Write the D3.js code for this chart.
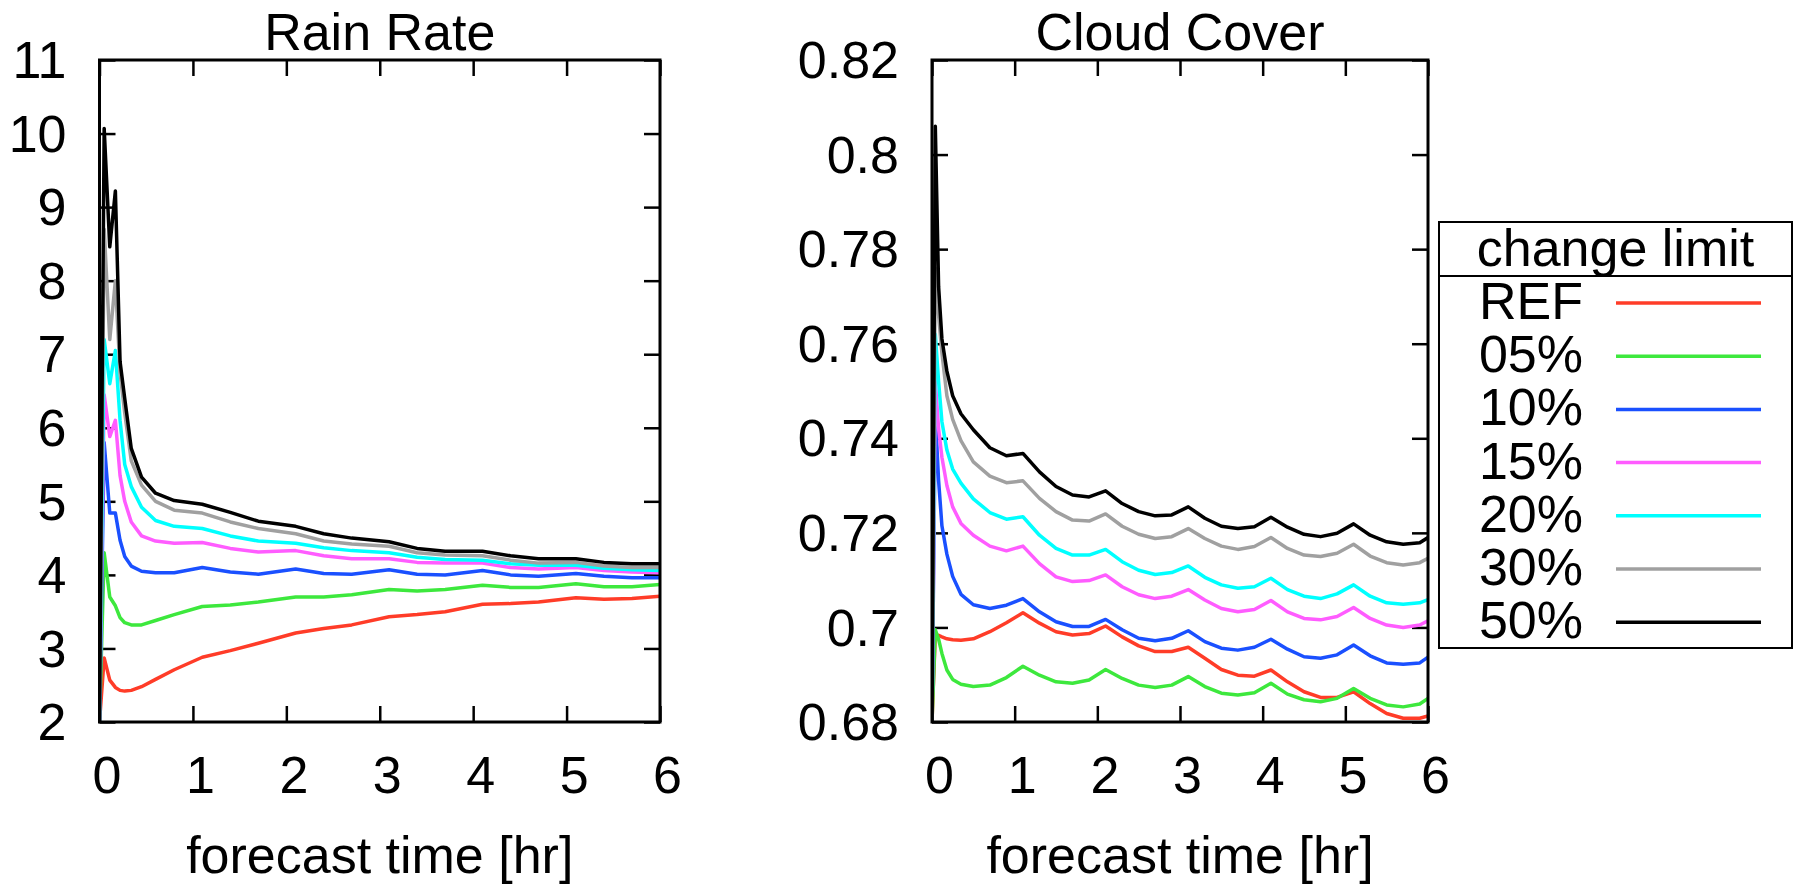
<!DOCTYPE html>
<html>
<head>
<meta charset="utf-8">
<script src="https://cdn.jsdelivr.net/npm/d3@7"></script>
<style>
  body { margin: 0; background: #fff; }
  svg text { font-family: "Liberation Sans", Arial, Helvetica, sans-serif; fill: #000; }
</style>
</head>
<body>
<div id="chart"></div>
<script>
// series names + colours (legend order)
const seriesNames = ["REF", "05%", "10%", "15%", "20%", "30%", "50%"];
const seriesColors = ["#ff3c28", "#3de83d", "#1a50ff", "#ff5cff", "#00ffff", "#a0a0a0", "#000000"];

// Rain Rate: forecast time [hr]
const rainTimes = [0, 0.05, 0.11, 0.17, 0.22, 0.27, 0.34, 0.45, 0.6, 0.8, 1.1, 1.4, 1.7, 2.1, 2.4, 2.7, 3.1, 3.4, 3.7, 4.1, 4.4, 4.7, 5.1, 5.4, 5.7, 6.0];
const rainREF = [2, 2.87, 2.57, 2.47, 2.43, 2.42, 2.43, 2.48, 2.58, 2.71, 2.88, 2.97, 3.07, 3.21, 3.27, 3.32, 3.43, 3.46, 3.50, 3.60, 3.61, 3.63, 3.69, 3.67, 3.68, 3.71];
const rain05 = [2, 4.30, 3.70, 3.58, 3.42, 3.35, 3.32, 3.32, 3.38, 3.46, 3.57, 3.59, 3.63, 3.70, 3.70, 3.73, 3.80, 3.78, 3.80, 3.86, 3.83, 3.83, 3.88, 3.84, 3.84, 3.87];
const rain10 = [2, 5.80, 4.84, 4.84, 4.47, 4.25, 4.12, 4.05, 4.03, 4.03, 4.10, 4.04, 4.01, 4.08, 4.02, 4.01, 4.07, 4.01, 4.00, 4.06, 4.00, 3.98, 4.02, 3.98, 3.96, 3.96];
const rain15 = [2, 6.45, 5.88, 6.10, 5.35, 5.00, 4.72, 4.53, 4.46, 4.43, 4.44, 4.36, 4.31, 4.33, 4.26, 4.22, 4.22, 4.17, 4.16, 4.16, 4.10, 4.08, 4.10, 4.06, 4.04, 4.03];
const rain20 = [2, 7.20, 6.60, 7.05, 6.10, 5.50, 5.20, 4.92, 4.74, 4.66, 4.63, 4.53, 4.46, 4.43, 4.37, 4.33, 4.30, 4.24, 4.21, 4.20, 4.15, 4.13, 4.13, 4.09, 4.07, 4.06];
const rain30 = [2, 8.70, 7.20, 8.00, 6.75, 6.20, 5.55, 5.22, 5.00, 4.88, 4.84, 4.72, 4.63, 4.56, 4.46, 4.42, 4.39, 4.30, 4.27, 4.26, 4.20, 4.16, 4.17, 4.12, 4.10, 4.10];
const rain50 = [2, 10.07, 8.46, 9.22, 6.90, 6.40, 5.72, 5.33, 5.11, 5.01, 4.96, 4.85, 4.73, 4.66, 4.56, 4.50, 4.45, 4.36, 4.32, 4.32, 4.26, 4.22, 4.22, 4.17, 4.15, 4.15];

// Cloud Cover: forecast time [hr]
const cloudTimes = [0, 0.04, 0.08, 0.12, 0.18, 0.25, 0.35, 0.5, 0.7, 0.9,
  1.1, 1.3, 1.5, 1.7, 1.9, 2.1, 2.3, 2.5, 2.7, 2.9, 3.1, 3.3, 3.5, 3.7, 3.9,
  4.1, 4.3, 4.5, 4.7, 4.9, 5.1, 5.3, 5.5, 5.7, 5.9, 6.0];
const cloudREF = [0.68, 0.6985, 0.6983, 0.698, 0.6976, 0.6974, 0.6973, 0.6976, 0.6991, 0.7010,
  0.7031, 0.7009, 0.6991, 0.6984, 0.6987, 0.7003, 0.6980, 0.6961, 0.6949, 0.6949, 0.6958, 0.6935, 0.6911, 0.6899, 0.6897,
  0.6910, 0.6885, 0.6864, 0.6852, 0.6852, 0.6864, 0.6839, 0.6818, 0.6808, 0.6808, 0.6813];
const cloud05 = [0.68, 0.6995, 0.6975, 0.6945, 0.6910, 0.6890, 0.6880, 0.6875, 0.6878, 0.6894,
  0.6918, 0.6899, 0.6885, 0.6882, 0.6889, 0.6911, 0.6892, 0.6878, 0.6873, 0.6878, 0.6896, 0.6875, 0.6861, 0.6857, 0.6862,
  0.6882, 0.6859, 0.6847, 0.6843, 0.6850, 0.6871, 0.6850, 0.6836, 0.6832, 0.6838, 0.6850];
const cloud10 = [0.68, 0.745, 0.731, 0.7215, 0.7155, 0.7108, 0.7070, 0.7048, 0.7040, 0.7047,
  0.7061, 0.7033, 0.7012, 0.7002, 0.7002, 0.7017, 0.6995, 0.6977, 0.6972, 0.6977, 0.6993, 0.6970, 0.6956, 0.6952, 0.6958,
  0.6975, 0.6954, 0.6938, 0.6935, 0.6942, 0.6963, 0.6940, 0.6925, 0.6922, 0.6925, 0.6937];
const cloud15 = [0.68, 0.752, 0.742, 0.736, 0.730, 0.7255, 0.7220, 0.7195, 0.7172, 0.7162,
  0.7172, 0.7135, 0.7107, 0.7097, 0.7099, 0.7111, 0.7086, 0.7069, 0.7061, 0.7066, 0.7080, 0.7058, 0.7040, 0.7033, 0.7038,
  0.7057, 0.7033, 0.7019, 0.7016, 0.7023, 0.7042, 0.7019, 0.7005, 0.7000, 0.7005, 0.7014];
const cloud20 = [0.68, 0.762, 0.752, 0.7435, 0.7375, 0.7335, 0.7305, 0.7272, 0.7243, 0.7229,
  0.7234, 0.7195, 0.7167, 0.7153, 0.7153, 0.7165, 0.7139, 0.7121, 0.7112, 0.7116, 0.7130, 0.7106, 0.7090, 0.7083, 0.7086,
  0.7104, 0.7080, 0.7066, 0.7061, 0.7071, 0.7090, 0.7066, 0.7052, 0.7049, 0.7052, 0.7059];
const cloud30 = [0.68, 0.776, 0.766, 0.758, 0.749, 0.744, 0.7395, 0.7350, 0.7320, 0.7306,
  0.7310, 0.7273, 0.7245, 0.7227, 0.7225, 0.7240, 0.7214, 0.7197, 0.7188, 0.7192, 0.7209, 0.7188, 0.7172, 0.7165, 0.7171,
  0.7190, 0.7167, 0.7153, 0.7150, 0.7157, 0.7176, 0.7151, 0.7137, 0.7132, 0.7137, 0.7146];
const cloud50 = [0.68, 0.806, 0.772, 0.761, 0.7542, 0.749, 0.7452, 0.7418, 0.7380, 0.7363,
  0.7368, 0.7329, 0.7298, 0.7280, 0.7276, 0.7289, 0.7262, 0.7245, 0.7236, 0.7238, 0.7255, 0.7231, 0.7214, 0.7209, 0.7213,
  0.7233, 0.7212, 0.7197, 0.7192, 0.7199, 0.7219, 0.7195, 0.7181, 0.7176, 0.7179, 0.7190];

const rainTicksY = [2, 3, 4, 5, 6, 7, 8, 9, 10, 11];
const cloudTicksY = [0.68, 0.70, 0.72, 0.74, 0.76, 0.78, 0.80, 0.82];
const timeTicks = [0, 1, 2, 3, 4, 5, 6];

const width = 1794;
const height = 885;
const fontSize = 52;
const tickLen = 16;

const svg = d3.select("#chart").append("svg")
  .attr("width", width)
  .attr("height", height);

svg.append("rect").attr("width", width).attr("height", height).attr("fill", "#fff");

function drawPanel(opts) {
  const { id, title, x, y, yTicks, yFormat, times, series } = opts;
  const [x0, x1] = x.range();
  const [yb, yt] = y.range();
  const g = svg.append("g");

  g.append("clipPath").attr("id", id)
    .append("rect")
    .attr("x", x0).attr("y", yt)
    .attr("width", x1 - x0).attr("height", yb - yt);

  // ticks on all four sides, pointing in
  g.append("g").attr("transform", `translate(0,${yb})`)
    .call(d3.axisBottom(x).tickValues(timeTicks).tickSize(-tickLen).tickPadding(34).tickFormat(d3.format("d")))
    .call(a => a.select(".domain").remove())
    .call(a => a.selectAll("text").attr("dx", 7));
  g.append("g").attr("transform", `translate(0,${yt})`)
    .call(d3.axisTop(x).tickValues(timeTicks).tickSize(-tickLen).tickFormat(""))
    .call(a => a.select(".domain").remove());
  g.append("g").attr("transform", `translate(${x0},0)`)
    .call(d3.axisLeft(y).tickValues(yTicks).tickSize(-tickLen).tickPadding(33).tickFormat(yFormat))
    .call(a => a.select(".domain").remove())
    .call(a => a.selectAll("text").attr("dy", "0.34em"));
  g.append("g").attr("transform", `translate(${x1},0)`)
    .call(d3.axisRight(y).tickValues(yTicks).tickSize(-tickLen).tickFormat(""))
    .call(a => a.select(".domain").remove());

  g.selectAll(".tick line").attr("stroke", "#000").attr("stroke-width", 2.5);
  g.selectAll(".tick text")
    .attr("font-size", fontSize)
    .attr("font-family", "Liberation Sans, Arial, sans-serif")
    .attr("fill", "#000");

  const line = d3.line()
    .x((d, i) => x(times[i]))
    .y(d => y(d));

  g.append("g").attr("clip-path", `url(#${id})`)
    .selectAll("path")
    .data(series)
    .join("path")
    .attr("d", d => line(d))
    .attr("fill", "none")
    .attr("stroke", (d, i) => seriesColors[i])
    .attr("stroke-width", 3.5)
    .attr("stroke-linejoin", "round");

  g.append("rect")
    .attr("x", x0).attr("y", yt)
    .attr("width", x1 - x0).attr("height", yb - yt)
    .attr("fill", "none")
    .attr("stroke", "#000")
    .attr("stroke-width", 3);

  g.append("text")
    .attr("x", (x0 + x1) / 2)
    .attr("y", 50)
    .attr("text-anchor", "middle")
    .attr("font-size", fontSize)
    .text(title);

  g.append("text")
    .attr("x", (x0 + x1) / 2)
    .attr("y", 873)
    .attr("text-anchor", "middle")
    .attr("font-size", fontSize)
    .text("forecast time [hr]");
}

const xRain = d3.scaleLinear([0, 6], [99.5, 660]);
const yRain = d3.scaleLinear([2, 11], [722, 60]);
drawPanel({
  id: "clipRain", title: "Rain Rate", x: xRain, y: yRain,
  yTicks: rainTicksY, yFormat: d3.format("d"), times: rainTimes,
  series: [rainREF, rain05, rain10, rain15, rain20, rain30, rain50]
});

const xCloud = d3.scaleLinear([0, 6], [932, 1428]);
const yCloud = d3.scaleLinear([0.68, 0.82], [722, 60]);
drawPanel({
  id: "clipCloud", title: "Cloud Cover", x: xCloud, y: yCloud,
  yTicks: cloudTicksY, yFormat: d => String(+d.toFixed(2)), times: cloudTimes,
  series: [cloudREF, cloud05, cloud10, cloud15, cloud20, cloud30, cloud50]
});

// legend box
const legend = { x: 1439, y: 222, w: 353, h: 426, head: 54, row: 53.2 };
const lg = svg.append("g");
lg.append("rect")
  .attr("x", legend.x).attr("y", legend.y)
  .attr("width", legend.w).attr("height", legend.h)
  .attr("fill", "#fff").attr("stroke", "#000").attr("stroke-width", 2);
lg.append("line")
  .attr("x1", legend.x).attr("x2", legend.x + legend.w)
  .attr("y1", legend.y + legend.head).attr("y2", legend.y + legend.head)
  .attr("stroke", "#000").attr("stroke-width", 2);
lg.append("text")
  .attr("x", legend.x + legend.w / 2)
  .attr("y", legend.y + 44)
  .attr("text-anchor", "middle")
  .attr("font-size", fontSize)
  .text("change limit");

seriesNames.forEach((name, i) => {
  const cy = legend.y + 81 + i * legend.row;
  lg.append("text")
    .attr("x", legend.x + 144)
    .attr("y", cy + 16)
    .attr("text-anchor", "end")
    .attr("font-size", fontSize)
    .text(name);
  lg.append("line")
    .attr("x1", legend.x + 177).attr("x2", legend.x + 322)
    .attr("y1", cy).attr("y2", cy)
    .attr("stroke", seriesColors[i])
    .attr("stroke-width", 3.5);
});
</script>
</body>
</html>
